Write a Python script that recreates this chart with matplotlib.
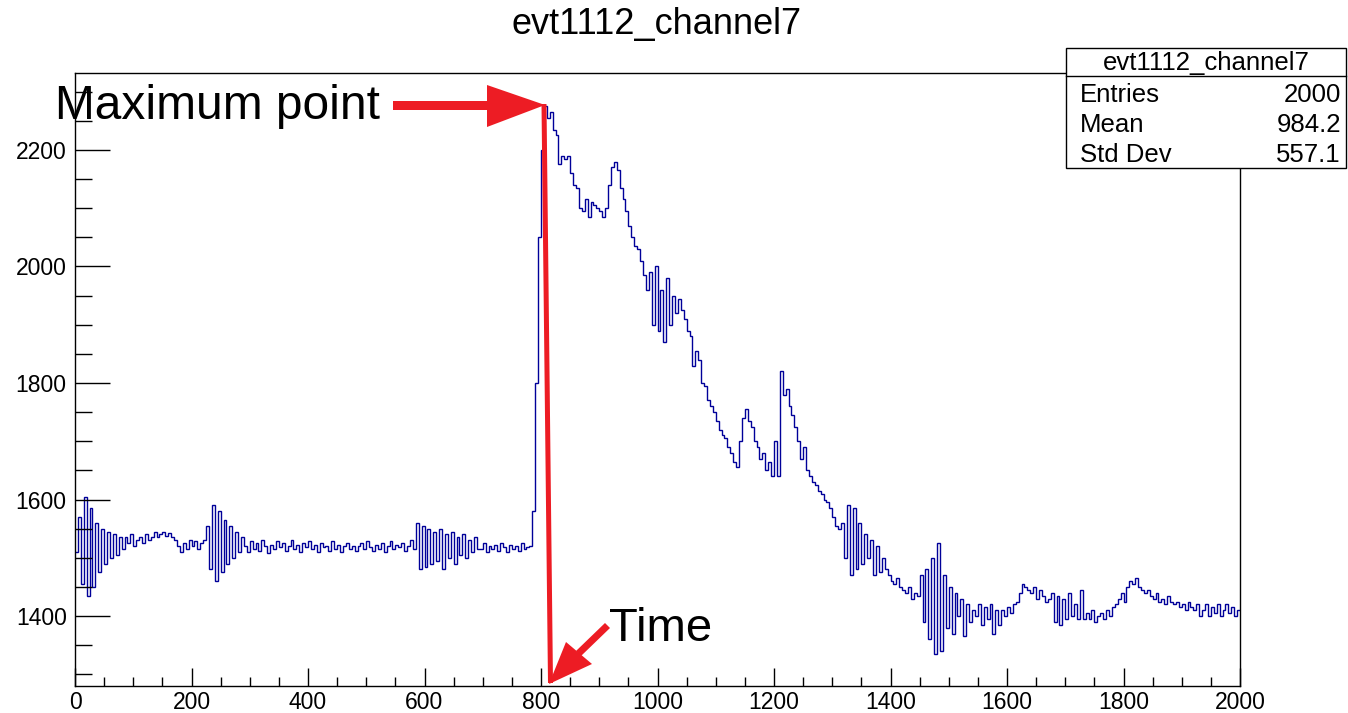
import numpy as np
import matplotlib
matplotlib.use("Agg")
import matplotlib.pyplot as plt
from matplotlib.patches import Polygon, Rectangle
from matplotlib.lines import Line2D

plt.rcParams['font.family'] = ['Liberation Sans', 'DejaVu Sans']

W, H = 1348, 713
BIN = 5  # samples per bin

# ---- waveform data (bin start sample, values per 5-sample bin) ----
seg_starts = [0, 50, 80, 160, 225, 290, 405, 485, 585, 695,
              785, 985, 1040, 1320, 1450, 1620, 1790]
seg_0 = [1510, 1570, 1455, 1605, 1435, 1585, 1450, 1560, 1475, 1550]
seg_50 = [1490, 1545, 1500, 1540, 1505, 1535]
seg_80 = [1515, 1535, 1525, 1540, 1520, 1530, 1535, 1525, 1540, 1530, 1535, 1545,
          1535, 1540, 1545, 1538]
seg_160 = [1542, 1535, 1530, 1520, 1510, 1525, 1515, 1530, 1520, 1528, 1515, 1525, 1530]
seg_225 = [1555, 1480, 1590, 1460, 1580, 1475, 1565, 1490, 1555, 1500, 1545, 1510, 1535]
seg_290 = [1520, 1510, 1528, 1515, 1525, 1512, 1530, 1520, 1508, 1522, 1515, 1528,
           1518, 1525, 1512, 1520, 1530, 1515, 1522, 1510, 1525, 1518, 1528]
seg_405 = [1515, 1522, 1510, 1525, 1518, 1520, 1512, 1528, 1515, 1522, 1510, 1520,
           1525, 1515, 1520, 1512]
seg_485 = [1520, 1525, 1515, 1528, 1518, 1512, 1522, 1515, 1525, 1510, 1520, 1528,
           1515, 1522, 1518, 1525, 1512, 1520, 1530, 1515]
seg_585 = [1560, 1480, 1555, 1485, 1550, 1490, 1545, 1495, 1550, 1480, 1540, 1500,
           1545, 1490, 1535, 1505, 1540, 1500, 1530, 1510, 1535, 1515]
seg_695 = [1515, 1525, 1510, 1520, 1515, 1522, 1512, 1525, 1518, 1510, 1522, 1515,
           1520, 1512, 1525, 1515, 1518, 1520]
seg_785 = [1580, 1800, 2050, 2200, 2275, 2255, 2265, 2235, 2225, 2175, 2190, 2185,
           2190, 2160, 2140, 2135, 2100, 2095, 2115, 2085, 2110, 2105, 2100, 2095,
           2085, 2100, 2140, 2170, 2180, 2165, 2135, 2115, 2095, 2070, 2050, 2035,
           2030, 2010, 1985, 1960]
seg_985 = [1990, 1900, 2000, 1890, 1960, 1870, 1980, 1900, 1950, 1920, 1945]
seg_1040 = [1925, 1910, 1890, 1880, 1830, 1855, 1840, 1800, 1795, 1770, 1760, 1750,
            1735, 1720, 1710, 1705, 1690, 1680, 1665, 1655, 1700, 1740, 1755, 1735,
            1725, 1700, 1690, 1670, 1680, 1650, 1665, 1640, 1700, 1640, 1820, 1780,
            1790, 1760, 1745, 1725, 1700, 1670, 1690, 1650, 1640, 1630, 1625, 1615,
            1610, 1600, 1595, 1585, 1570, 1555, 1550, 1560]
seg_1320 = [1500, 1590, 1470, 1585, 1480, 1560, 1490, 1540, 1500, 1530, 1470, 1520,
            1475, 1500, 1480, 1470, 1460, 1455, 1465, 1450, 1445, 1440, 1450, 1430,
            1440, 1435]
seg_1450 = [1470, 1390, 1480, 1360, 1500, 1335, 1525, 1340, 1470, 1380, 1450, 1370,
            1440, 1400, 1430, 1365, 1420, 1390, 1410, 1400, 1420, 1385, 1415, 1395,
            1420, 1370, 1410, 1385, 1410, 1400, 1415, 1405, 1420, 1425]
seg_1620 = [1440, 1455, 1450, 1445, 1440, 1450, 1430, 1445, 1435, 1425, 1430, 1440,
            1390, 1435, 1385, 1430, 1395, 1440, 1400, 1420, 1395, 1445, 1395, 1405,
            1395, 1410, 1390, 1400, 1405, 1395, 1410, 1400, 1415, 1420]
seg_1790 = [1430, 1440, 1425, 1450, 1460, 1455, 1465, 1450, 1445, 1440, 1445, 1435,
            1430, 1440, 1425, 1430, 1420, 1435, 1425, 1420, 1425, 1415, 1420, 1410,
            1425, 1415, 1410, 1420, 1400, 1410, 1420, 1400, 1415, 1405, 1420, 1400,
            1410, 1420, 1405, 1415, 1400, 1410]
segments = [seg_0, seg_50, seg_80, seg_160, seg_225, seg_290, seg_405, seg_485,
            seg_585, seg_695, seg_785, seg_985, seg_1040, seg_1320, seg_1450,
            seg_1620, seg_1790]

hist_title = "evt1112_channel7"
stat_names = ["Entries", "Mean", "Std Dev"]
stat_values = ["2000", "984.2", "557.1"]
x_range = (0, 2000)
y_range = (1280, 2332)

# build bins
starts, vals = [], []
for s, seg in zip(seg_starts, segments):
    for k, v in enumerate(seg):
        starts.append(s + BIN * k)
        vals.append(v)
order = np.argsort(starts)
starts = np.array(starts)[order]
vals = np.array(vals, dtype=float)[order]
edges = np.append(starts, starts[-1] + BIN)

fig = plt.figure(figsize=(W / 100, H / 100), dpi=100)
ax = fig.add_axes([75 / W, 1 - 686 / H, (1240 - 75) / W, (686 - 73) / H])
ax.stairs(vals, edges, color='#000099', lw=1.0, baseline=None)
ax.set_xlim(*x_range)
ax.set_ylim(*y_range)

ax.set_xticks(np.arange(0, 2001, 200))
ax.set_xticks(np.arange(0, 2001, 50), minor=True)
ax.set_yticks(np.arange(1400, 2201, 200))
ax.set_yticks(np.arange(1300, 2331, 50), minor=True)
ax.tick_params(axis='x', which='major', direction='in', length=13, width=1, pad=3.5, labelsize=16.5)
ax.tick_params(axis='x', which='minor', direction='in', length=6.5, width=1)
ax.tick_params(axis='y', which='major', direction='in', length=25, width=1, pad=6, labelsize=16.5)
ax.tick_params(axis='y', which='minor', direction='in', length=12.5, width=1)
for sp in ax.spines.values():
    sp.set_linewidth(1.0)

def fx(x):
    return x / W

def fy(y):
    return 1 - y / H

# title
fig.text(fx(657), fy(34), hist_title, ha='center', va='baseline', fontsize=26)

# stats box
fig.patches.append(Rectangle((fx(1066), fy(168)), (1346 - 1066) / W, (168 - 48) / H,
                             transform=fig.transFigure, facecolor='white',
                             edgecolor='black', lw=1.0, zorder=5))
fig.lines.append(Line2D([fx(1066), fx(1346)], [fy(76), fy(76)], transform=fig.transFigure,
                        color='black', lw=1.0, zorder=6))
fig.text(fx(1206), fy(70), hist_title, ha='center', va='baseline', fontsize=18.5, zorder=7)
for k, (nm, vv) in enumerate(zip(stat_names, stat_values)):
    yb = 102 + 30 * k
    fig.text(fx(1080), fy(yb), nm, ha='left', va='baseline', fontsize=18.5, zorder=7)
    fig.text(fx(1341), fy(yb), vv, ha='right', va='baseline', fontsize=18.5, zorder=7)

red = '#ed1c24'
# arrow 1 (horizontal, to the maximum)
fig.patches.append(Polygon([(fx(393), fy(101)), (fx(490), fy(101)), (fx(490), fy(110)),
                            (fx(393), fy(110))], closed=True, transform=fig.transFigure,
                           facecolor=red, edgecolor='none', zorder=8))
fig.patches.append(Polygon([(fx(487), fy(85)), (fx(545), fy(105)), (fx(487), fy(127))],
                           closed=True, transform=fig.transFigure,
                           facecolor=red, edgecolor='none', zorder=8))
# vertical line from maximum down to the axis
fig.patches.append(Polygon([(fx(541.5), fy(104)), (fx(546.5), fy(104)),
                            (fx(553), fy(683)), (fx(548), fy(683))], closed=True,
                           transform=fig.transFigure, facecolor=red, edgecolor='none', zorder=8))
# arrow 3 (from "Time")
fig.patches.append(Polygon([(fx(605), fy(623)), (fx(610), fy(628)), (fx(581), fy(656)),
                            (fx(576), fy(651))], closed=True, transform=fig.transFigure,
                           facecolor=red, edgecolor='none', zorder=8))
fig.patches.append(Polygon([(fx(566), fy(642)), (fx(592), fy(664)), (fx(549), fy(684))],
                           closed=True, transform=fig.transFigure,
                           facecolor=red, edgecolor='none', zorder=8))

fig.text(fx(55), fy(119), "Maximum point", ha='left', va='baseline', fontsize=34.5, zorder=9)
fig.text(fx(609), fy(641), "Time", ha='left', va='baseline', fontsize=34, zorder=9)

fig.savefig("out.png", dpi=100)
